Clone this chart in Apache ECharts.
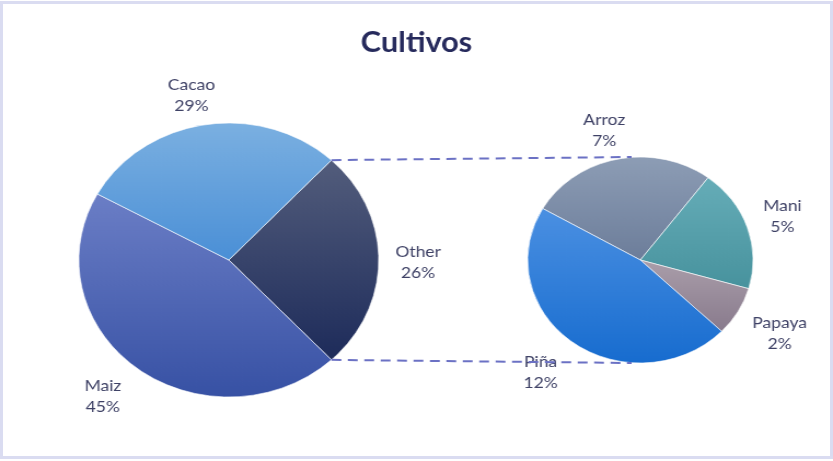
<!DOCTYPE html>
<html>
<head>
<meta charset="utf-8">
<script src="https://cdn.jsdelivr.net/npm/echarts@6/dist/echarts.min.js"></script>
<style>
  html, body { margin: 0; padding: 0; background: #fff; }
  #wrap { position: relative; width: 833px; height: 461px; overflow: hidden; }
  #frame { position: absolute; left: 0; top: 1px; width: 827px; height: 452px; border: 3px solid #dadcf1; }
  /* the source picture is stretched a little horizontally */
  #chart { position: absolute; left: 0; top: 0; width: 761px; height: 461px; transform: scaleX(1.0946); transform-origin: 0 0; }
</style>
</head>
<body>
<div id="wrap">
  <div id="frame"></div>
  <div id="chart"></div>
</div>
<script>
  // datos del grafico (porcentajes del total)
  const mainNames = ['Other', 'Maiz', 'Cacao'];
  const mainValues = [26, 45, 29];
  const subNames = ['Arroz', 'Mani', 'Papaya', 'Piña'];
  const subValues = [7, 5, 2, 12];

  const mainColors = [['#535d7c', '#1d2b5a'], ['#6b7ec6', '#3751a4'], ['#7bb0e1', '#4a8fd6']];
  const subColors = [['#8d9db5', '#6c7d9a'], ['#66adb8', '#47929d'], ['#aa9eaa', '#887a8c'], ['#4b90e2', '#176ccf']];

  const mainCenter = [209, 260], mainR = 137;
  const subCenter = [585, 260], subR = 103;

  function grad(c) {
    return { type: 'linear', x: 0, y: 0, x2: 0, y2: 1, colorStops: [{ offset: 0, color: c[0] }, { offset: 1, color: c[1] }] };
  }

  const mainTotal = mainValues.reduce((a, b) => a + b, 0);
  const mainStart = mainValues[0] / mainTotal * 360 / 2;   // "Other" centrado a la derecha
  const subStart = 150;

  const a = mainStart * Math.PI / 180;
  const p1 = [mainCenter[0] + mainR * Math.cos(a), mainCenter[1] - mainR * Math.sin(a)];
  const p2 = [mainCenter[0] + mainR * Math.cos(a), mainCenter[1] + mainR * Math.sin(a)];

  const labelStyle = {
    show: true,
    position: 'outside',
    formatter: '{b}\n{c}%',
    color: '#3f4266',
    fontSize: 16,
    lineHeight: 21,
    fontFamily: 'Lato',
    distanceToLabelLine: 0
  };

  // pequeños ajustes para parecerse a la colocacion de Excel
  const mainNudge = [[0, 2], [-9, 0], [-7, 6]];
  const subNudge = [[-5, 8], [-3, 1], [6, 3], [-7, 0]];

  let chart = echarts.init(document.getElementById('chart'));
  chart.setOption({
    animation: false,
    title: {
      text: 'Cultivos',
      left: 'center',
      top: 24,
      textStyle: { fontSize: 28, fontWeight: 'bold', color: '#262a5c', fontFamily: 'Lato' }
    },
    graphic: [
      { type: 'line', z: 100, shape: { x1: p1[0], y1: p1[1], x2: subCenter[0] - 8, y2: subCenter[1] - subR },
        style: { stroke: '#6b71c4', lineWidth: 2, lineDash: [9, 6] } },
      { type: 'line', z: 100, shape: { x1: p2[0], y1: p2[1], x2: subCenter[0] - 8, y2: subCenter[1] + subR },
        style: { stroke: '#6b71c4', lineWidth: 2, lineDash: [9, 6] } }
    ],
    series: [
      {
        type: 'pie',
        center: mainCenter,
        radius: mainR,
        startAngle: mainStart,
        clockwise: true,
        avoidLabelOverlap: false,
        label: labelStyle,
        labelLine: { show: false, length: 36, length2: 0 },
        labelLayout: function (p) {
          return { align: 'center', verticalAlign: 'middle', dx: mainNudge[p.dataIndex][0], dy: mainNudge[p.dataIndex][1] };
        },
        itemStyle: { borderColor: 'rgba(255,255,255,0.6)', borderWidth: 1 },
        emphasis: { disabled: true },
        data: mainNames.map((n, i) => ({ name: n, value: mainValues[i], itemStyle: { color: grad(mainColors[i]) } }))
      },
      {
        type: 'pie',
        center: subCenter,
        radius: subR,
        startAngle: subStart,
        clockwise: true,
        avoidLabelOverlap: false,
        label: labelStyle,
        labelLine: { show: false, length: 37, length2: 0 },
        labelLayout: function (p) {
          return { align: 'center', verticalAlign: 'middle', dx: subNudge[p.dataIndex][0], dy: subNudge[p.dataIndex][1] };
        },
        itemStyle: { borderColor: 'rgba(255,255,255,0.6)', borderWidth: 1 },
        emphasis: { disabled: true },
        data: subNames.map((n, i) => ({ name: n, value: subValues[i], itemStyle: { color: grad(subColors[i]) } }))
      }
    ]
  });
</script>
</body>
</html>
